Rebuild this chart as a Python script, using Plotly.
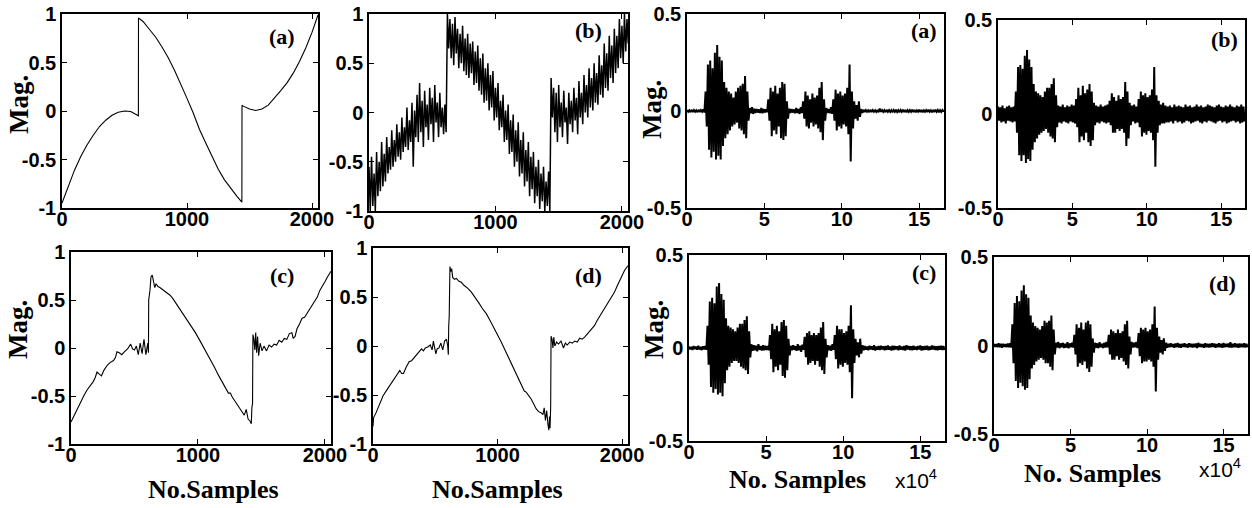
import numpy as np
import plotly.graph_objects as go

W, H = 1252, 508

# ---------------- data ----------------
# (a) clean test signal, sample index vs magnitude
clean_x = [0, 50, 100, 150, 200, 250, 300, 350, 400, 450, 500, 550, 600, 611,
           612, 650, 700, 750, 800, 850, 900, 950, 1000, 1050, 1100, 1150, 1200,
           1250, 1300, 1350, 1400, 1439,
           1440, 1450, 1500, 1550, 1600, 1650, 1700, 1750, 1800, 1850, 1900,
           1950, 2000, 2048]
clean_y = [-0.95, -0.77, -0.61, -0.47, -0.35, -0.25, -0.16, -0.095, -0.044, -0.013, 0.0, -0.005, -0.035, -0.05,
           0.96, 0.92, 0.84, 0.76, 0.66, 0.55, 0.42, 0.28, 0.13, -0.02, -0.19, -0.33, -0.46,
           -0.60, -0.71, -0.80, -0.88, -0.94,
           0.06, 0.05, 0.02, 0.005, 0.02, 0.06, 0.13, 0.21, 0.29, 0.39, 0.51,
           0.65, 0.81, 0.99]

# (b) noisy signal: upper / lower excursion in each 20-sample bin
noisy_bin = 20
noisy_hi = [-0.55, -0.45, -0.62, -0.40, -0.50, -0.30, -0.42, -0.25, -0.35, -0.18,
            -0.28, -0.12, -0.20, -0.05, -0.15, 0.05, -0.08, 0.10, 0.02, 0.18,
            0.30, 0.12, 0.22, 0.08, 0.25, 0.15, 0.28, 0.10, 0.20, 0.05,
            0.08, 1.0, 0.95, 0.90, 0.97, 0.85, 0.80, 0.88, 0.75, 0.80,
            0.70, 0.72, 0.62, 0.68, 0.55, 0.60, 0.45, 0.50, 0.38, 0.42,
            0.25, 0.30, 0.12, 0.18, 0.02, 0.08, -0.08, -0.02, -0.18, -0.10,
            -0.28, -0.20, -0.38, -0.30, -0.45, -0.40, -0.55, -0.48, -0.62, -0.55,
            -0.70, -0.60, 0.35, 0.25, 0.20, 0.28, 0.10, 0.22, 0.05, 0.20,
            0.12, 0.25, 0.15, 0.32, 0.20, 0.38, 0.28, 0.45, 0.35, 0.50,
            0.40, 0.58, 0.48, 0.70, 0.60, 0.78, 0.68, 0.85, 0.78, 0.95,
            0.88, 1.0, 0.95]
noisy_lo = [-1.0, -0.95, -1.0, -0.85, -0.80, -0.75, -0.70, -0.62, -0.58, -0.55,
            -0.50, -0.45, -0.48, -0.40, -0.35, -0.38, -0.30, -0.55, -0.25, -0.30,
            -0.20, -0.35, -0.15, -0.28, -0.12, -0.30, -0.10, -0.25, -0.15, -0.22,
            -0.20, 0.65, 0.55, 0.48, 0.60, 0.45, 0.50, 0.42, 0.38, 0.35,
            0.40, 0.28, 0.30, 0.22, 0.18, 0.10, 0.12, 0.02, 0.05, -0.08,
            -0.05, -0.18, -0.15, -0.30, -0.28, -0.42, -0.40, -0.55, -0.50, -0.65,
            -0.62, -0.75, -0.70, -0.85, -0.78, -0.92, -0.85, -0.98, -0.90, -1.0,
            -0.95, -1.0, -0.05, -0.20, -0.30, -0.15, -0.25, -0.10, -0.32, -0.12,
            -0.20, -0.08, -0.22, -0.05, -0.12, 0.0, -0.05, 0.05, 0.02, 0.10,
            0.08, 0.18, 0.15, 0.25, 0.22, 0.35, 0.30, 0.40, 0.45, 0.55,
            0.50, 0.62, 0.70]

# (c) denoised signal, bottom row left
den_c_x = [0, 25, 50, 75, 100, 125, 150, 175, 190, 205, 220, 240, 260, 285, 310, 335, 350, 362,
           380, 400, 420, 445, 470, 485, 500, 515, 530, 545, 560, 575, 590, 605, 610,
           612, 622, 630, 640, 650, 660, 670, 685, 700, 720, 740, 760, 780, 800, 830, 860,
           890, 920, 950, 980, 1010, 1040, 1070, 1100, 1130, 1160, 1190, 1220, 1240, 1255,
           1270, 1300, 1330, 1350, 1365, 1380, 1395, 1410, 1420, 1425, 1430,
           1433, 1440, 1448, 1455, 1462, 1470, 1478, 1490, 1505, 1520, 1540, 1560, 1580,
           1600, 1620, 1640, 1660, 1680, 1700, 1720, 1740, 1750, 1765, 1780, 1800, 1820,
           1840, 1860, 1880, 1900, 1920, 1940, 1960, 1980, 2000, 2020, 2048]
den_c_y = [-0.77, -0.70, -0.64, -0.57, -0.50, -0.44, -0.40, -0.35, -0.31, -0.25, -0.27, -0.29, -0.23, -0.18, -0.15, -0.13, -0.10, -0.04,
           -0.05, -0.07, -0.04, -0.01, 0.04, -0.01, -0.02, 0.02, -0.07, 0.05, -0.06, 0.09, -0.07, 0.05, -0.05,
           0.50, 0.60, 0.74, 0.76, 0.70, 0.63, 0.67, 0.64, 0.63, 0.61, 0.59, 0.57, 0.55, 0.52, 0.46, 0.40,
           0.34, 0.29, 0.23, 0.16, 0.09, 0.02, -0.06, -0.13, -0.20, -0.28, -0.35, -0.42, -0.47, -0.47,
           -0.51, -0.57, -0.63, -0.67, -0.70, -0.64, -0.74, -0.76, -0.79, -0.62, -0.58,
           0.14, 0.10, -0.02, 0.16, -0.05, 0.12, -0.08, 0.05, -0.03, 0.02, -0.03, 0.03, 0.01,
           0.04, 0.03, 0.08, 0.06, 0.10, 0.09, 0.15, 0.16, 0.10, 0.12, 0.20, 0.25, 0.31,
           0.32, 0.36, 0.40, 0.44, 0.48, 0.53, 0.60, 0.64, 0.69, 0.74, 0.80]

# (d) denoised signal, bottom row second
den_d_x = [0, 5, 25, 50, 80, 110, 135, 160, 190, 205, 215, 230, 245, 265, 290, 310, 330, 350,
           370, 390, 405, 420, 440, 460, 475, 485, 495, 505, 515, 530, 545, 560, 575, 590,
           600, 605, 608, 612, 618, 624, 632, 640, 655, 670, 690, 710, 730, 760, 790, 820,
           850, 880, 910, 940, 970, 1000, 1030, 1060, 1090, 1120, 1150, 1180, 1200, 1215,
           1230, 1250, 1270, 1290, 1310, 1330, 1350, 1365, 1375, 1385, 1395, 1405, 1412,
           1418, 1422, 1427,
           1430, 1438, 1445, 1452, 1460, 1475, 1490, 1510, 1530, 1545, 1560, 1580, 1600,
           1620, 1640, 1660, 1680, 1700, 1720, 1740, 1760, 1780, 1800, 1820, 1840, 1860,
           1880, 1900, 1920, 1940, 1960, 1980, 2000, 2020, 2048]
den_d_y = [-0.82, -0.73, -0.68, -0.60, -0.51, -0.45, -0.40, -0.35, -0.30, -0.26, -0.25, -0.28, -0.28, -0.22, -0.16, -0.15, -0.12, -0.08,
           -0.06, -0.03, -0.05, -0.02, -0.01, 0.01, -0.04, 0.05, -0.02, -0.08, -0.03, -0.02, 0.03, -0.04, 0.05, 0.07,
           0.0, -0.09, 0.20, 0.30, 0.81, 0.76, 0.79, 0.70, 0.68, 0.69, 0.66, 0.65, 0.62, 0.59, 0.55, 0.50,
           0.44, 0.38, 0.33, 0.26, 0.19, 0.11, 0.04, -0.04, -0.12, -0.21, -0.29, -0.37, -0.43, -0.46,
           -0.47, -0.50, -0.54, -0.59, -0.64, -0.67, -0.68, -0.70, -0.63, -0.76, -0.66, -0.80, -0.86,
           -0.72, -0.84, -0.62,
           0.10, 0.07, -0.02, 0.09, 0.0, 0.04, 0.02, 0.05, -0.02, 0.03, 0.01, 0.04, 0.03,
           0.05, 0.04, 0.08, 0.07, 0.09, 0.12, 0.14, 0.18, 0.21, 0.26, 0.30, 0.34, 0.39,
           0.43, 0.47, 0.51, 0.55, 0.61, 0.66, 0.71, 0.77, 0.82]

# speech signals: upper / lower excursion per bin of 0.15 x10^4 samples
speech_bin = 0.15
sp_a_hi = [0.005, 0.004, 0.006, 0.005, 0.004, 0.006, 0.005, 0.008,
           0.10, 0.24, 0.26, 0.22, 0.30, 0.34, 0.28, 0.26,
           0.15, 0.12, 0.10, 0.09, 0.07, 0.10, 0.12,
           0.13, 0.14, 0.18, 0.10,
           0.015, 0.02, 0.012, 0.01, 0.008, 0.015, 0.01, 0.008,
           0.06, 0.12, 0.10, 0.13, 0.09, 0.12, 0.15, 0.14, 0.05,
           0.012, 0.01, 0.008, 0.015, 0.01, 0.02,
           0.05, 0.10, 0.08, 0.06, 0.09, 0.07, 0.08, 0.12, 0.15, 0.06,
           0.015, 0.01, 0.02,
           0.06, 0.11, 0.09, 0.10, 0.08, 0.09, 0.12, 0.24, 0.10,
           0.05, 0.03, 0.05, 0.01,
           0.006, 0.005, 0.004, 0.006, 0.005, 0.004, 0.005, 0.012, 0.005, 0.004,
           0.006, 0.005, 0.004, 0.005, 0.006, 0.004, 0.005, 0.006, 0.005, 0.004,
           0.005, 0.006, 0.005, 0.004, 0.006, 0.005, 0.004, 0.005, 0.006, 0.004,
           0.005, 0.006, 0.005, 0.004, 0.005]
sp_a_lo = [-0.004, -0.006, -0.005, -0.004, -0.006, -0.005, -0.004, -0.007,
           -0.08, -0.20, -0.24, -0.21, -0.25, -0.23, -0.25, -0.18,
           -0.14, -0.12, -0.10, -0.08, -0.07, -0.06, -0.09,
           -0.10, -0.12, -0.14, -0.05,
           -0.012, -0.015, -0.01, -0.008, -0.01, -0.012, -0.008, -0.006,
           -0.05, -0.13, -0.10, -0.12, -0.08, -0.14, -0.15, -0.13, -0.04,
           -0.01, -0.008, -0.012, -0.01, -0.015, -0.01,
           -0.04, -0.08, -0.09, -0.06, -0.08, -0.07, -0.09, -0.11, -0.15, -0.05,
           -0.01, -0.012, -0.015,
           -0.05, -0.10, -0.08, -0.09, -0.07, -0.08, -0.12, -0.26, -0.09,
           -0.04, -0.05, -0.03, -0.01,
           -0.005, -0.004, -0.006, -0.005, -0.004, -0.005, -0.006, -0.004, -0.005, -0.006,
           -0.004, -0.005, -0.006, -0.004, -0.005, -0.006, -0.004, -0.005, -0.006, -0.005,
           -0.004, -0.005, -0.006, -0.004, -0.005, -0.006, -0.004, -0.005, -0.004, -0.006,
           -0.005, -0.004, -0.006, -0.005, -0.004]
sp_b_hi = [0.04, 0.035, 0.045, 0.03, 0.04, 0.045, 0.035, 0.04,
           0.12, 0.25, 0.26, 0.24, 0.31, 0.34, 0.29, 0.25,
           0.16, 0.12, 0.11, 0.10, 0.09, 0.12, 0.14,
           0.14, 0.16, 0.19, 0.10,
           0.045, 0.04, 0.05, 0.035, 0.045, 0.04, 0.05, 0.045,
           0.08, 0.14, 0.10, 0.15, 0.11, 0.13, 0.16, 0.12, 0.06,
           0.045, 0.04, 0.05, 0.04, 0.045, 0.05,
           0.07, 0.11, 0.09, 0.07, 0.10, 0.08, 0.09, 0.17, 0.12, 0.06,
           0.045, 0.05, 0.04,
           0.08, 0.12, 0.10, 0.11, 0.09, 0.10, 0.13, 0.25, 0.10,
           0.07, 0.05, 0.06, 0.045,
           0.04, 0.045, 0.035, 0.05, 0.04, 0.045, 0.04, 0.035, 0.05, 0.04,
           0.045, 0.035, 0.04, 0.05, 0.04, 0.045, 0.035, 0.04, 0.05, 0.045,
           0.04, 0.035, 0.045, 0.05, 0.04, 0.035, 0.045, 0.04, 0.05, 0.04,
           0.035, 0.045, 0.04, 0.05, 0.04]
sp_b_lo = [-0.035, -0.045, -0.04, -0.05, -0.035, -0.04, -0.045, -0.04,
           -0.10, -0.22, -0.25, -0.22, -0.26, -0.24, -0.25, -0.19,
           -0.15, -0.13, -0.11, -0.10, -0.09, -0.08, -0.10,
           -0.12, -0.13, -0.15, -0.07,
           -0.045, -0.05, -0.04, -0.045, -0.05, -0.04, -0.045, -0.05,
           -0.07, -0.15, -0.12, -0.14, -0.10, -0.15, -0.17, -0.14, -0.06,
           -0.045, -0.05, -0.04, -0.045, -0.05, -0.045,
           -0.06, -0.10, -0.10, -0.08, -0.09, -0.08, -0.10, -0.17, -0.13, -0.06,
           -0.04, -0.05, -0.045,
           -0.07, -0.12, -0.10, -0.11, -0.09, -0.10, -0.14, -0.28, -0.10,
           -0.06, -0.05, -0.05, -0.045,
           -0.045, -0.04, -0.05, -0.035, -0.045, -0.04, -0.05, -0.045, -0.035, -0.04,
           -0.05, -0.045, -0.04, -0.035, -0.045, -0.05, -0.04, -0.045, -0.035, -0.04,
           -0.045, -0.05, -0.04, -0.035, -0.045, -0.04, -0.05, -0.045, -0.04, -0.035,
           -0.045, -0.04, -0.05, -0.045, -0.04]
sp_c_hi = [0.008, 0.006, 0.01, 0.007, 0.012, 0.006, 0.009, 0.01,
           0.12, 0.25, 0.27, 0.24, 0.33, 0.35, 0.29, 0.26,
           0.16, 0.12, 0.11, 0.10, 0.09, 0.11, 0.13,
           0.13, 0.15, 0.17, 0.09,
           0.02, 0.015, 0.012, 0.02, 0.01, 0.015, 0.012, 0.01,
           0.07, 0.13, 0.10, 0.12, 0.09, 0.14, 0.15, 0.12, 0.05,
           0.012, 0.015, 0.01, 0.02, 0.012, 0.018,
           0.06, 0.08, 0.09, 0.07, 0.08, 0.07, 0.08, 0.11, 0.14, 0.05,
           0.015, 0.012, 0.02,
           0.07, 0.12, 0.10, 0.10, 0.08, 0.09, 0.12, 0.23, 0.10,
           0.05, 0.03, 0.05, 0.015,
           0.01, 0.008, 0.012, 0.009, 0.015, 0.008, 0.01, 0.012, 0.009, 0.011,
           0.014, 0.008, 0.012, 0.01, 0.009, 0.013, 0.008, 0.011, 0.015, 0.01,
           0.009, 0.012, 0.008, 0.011, 0.014, 0.009, 0.01, 0.012, 0.008, 0.013,
           0.01, 0.009, 0.011, 0.012, 0.01]
sp_c_lo = [-0.007, -0.01, -0.006, -0.009, -0.008, -0.011, -0.007, -0.009,
           -0.09, -0.21, -0.24, -0.22, -0.25, -0.24, -0.26, -0.19,
           -0.12, -0.10, -0.08, -0.07, -0.07, -0.08, -0.10,
           -0.11, -0.12, -0.14, -0.05,
           -0.015, -0.012, -0.018, -0.01, -0.014, -0.012, -0.01, -0.012,
           -0.06, -0.13, -0.10, -0.12, -0.09, -0.15, -0.16, -0.12, -0.04,
           -0.012, -0.01, -0.015, -0.012, -0.02, -0.01,
           -0.05, -0.09, -0.08, -0.07, -0.09, -0.07, -0.10, -0.12, -0.14, -0.05,
           -0.012, -0.015, -0.01,
           -0.06, -0.11, -0.09, -0.10, -0.08, -0.09, -0.13, -0.27, -0.08,
           -0.04, -0.05, -0.03, -0.012,
           -0.009, -0.012, -0.008, -0.01, -0.013, -0.009, -0.011, -0.008, -0.012, -0.01,
           -0.009, -0.013, -0.01, -0.008, -0.012, -0.009, -0.011, -0.014, -0.008, -0.01,
           -0.012, -0.009, -0.011, -0.008, -0.013, -0.01, -0.009, -0.012, -0.01, -0.008,
           -0.011, -0.012, -0.009, -0.01, -0.011]
sp_d_hi = [0.01, 0.008, 0.012, 0.009, 0.01, 0.008, 0.011, 0.012,
           0.12, 0.24, 0.28, 0.25, 0.31, 0.34, 0.29, 0.27,
           0.17, 0.13, 0.11, 0.10, 0.09, 0.11, 0.14,
           0.13, 0.14, 0.17, 0.09,
           0.015, 0.02, 0.012, 0.015, 0.01, 0.018, 0.012, 0.015,
           0.06, 0.12, 0.10, 0.13, 0.09, 0.13, 0.14, 0.12, 0.04,
           0.015, 0.012, 0.018, 0.01, 0.015, 0.02,
           0.06, 0.09, 0.08, 0.07, 0.09, 0.07, 0.08, 0.12, 0.14, 0.05,
           0.02, 0.015, 0.02,
           0.07, 0.10, 0.09, 0.10, 0.08, 0.09, 0.12, 0.22, 0.10,
           0.05, 0.03, 0.04, 0.015,
           0.01, 0.012, 0.008, 0.011, 0.014, 0.009, 0.01, 0.012, 0.008, 0.013,
           0.01, 0.009, 0.011, 0.015, 0.01, 0.008, 0.012, 0.01, 0.009, 0.013,
           0.011, 0.008, 0.012, 0.01, 0.014, 0.009, 0.011, 0.018, 0.01, 0.012,
           0.009, 0.011, 0.01, 0.012, 0.01]
sp_d_lo = [-0.008, -0.01, -0.009, -0.012, -0.008, -0.01, -0.009, -0.011,
           -0.10, -0.20, -0.24, -0.21, -0.23, -0.25, -0.24, -0.19,
           -0.13, -0.11, -0.09, -0.08, -0.07, -0.08, -0.10,
           -0.10, -0.12, -0.14, -0.05,
           -0.012, -0.015, -0.01, -0.014, -0.012, -0.016, -0.01, -0.012,
           -0.05, -0.12, -0.10, -0.11, -0.09, -0.13, -0.15, -0.12, -0.04,
           -0.012, -0.015, -0.01, -0.014, -0.012, -0.01,
           -0.05, -0.08, -0.08, -0.06, -0.08, -0.07, -0.09, -0.11, -0.13, -0.05,
           -0.012, -0.01, -0.015,
           -0.06, -0.10, -0.09, -0.09, -0.08, -0.09, -0.12, -0.26, -0.08,
           -0.04, -0.05, -0.03, -0.012,
           -0.01, -0.008, -0.012, -0.009, -0.011, -0.013, -0.008, -0.01, -0.012, -0.009,
           -0.011, -0.01, -0.014, -0.008, -0.01, -0.012, -0.009, -0.011, -0.01, -0.008,
           -0.012, -0.01, -0.009, -0.013, -0.01, -0.008, -0.011, -0.012, -0.009, -0.01,
           -0.012, -0.009, -0.01, -0.011, -0.01]

# tick labels
sig_ticks = [-1, -0.5, 0, 0.5, 1]
sig_tick_text = ["-1", "-0.5", "0", "0.5", "1"]
sig_xticks = [0, 1000, 2000]
sp_ticks = [-0.5, 0, 0.5]
sp_tick_text = ["-0.5", "0", "0.5"]
sp_xticks = [0, 5, 10, 15]


def zigzag(hi, lo, step):
    # interleave upper and lower excursions into one polyline
    n = min(len(hi), len(lo))
    xs, ys = [], []
    for i in range(n):
        xs += [i * step, i * step + step / 2]
        ys += [hi[i], lo[i]]
    return xs, ys


# panel boxes in pixels: left, top, right, bottom
boxes = {
    1: (62, 14, 318, 208),
    2: (369, 14, 628, 211),
    3: (687, 14, 944, 208),
    4: (998, 20, 1245, 208),
    5: (71, 252, 331, 444),
    6: (373, 248, 628, 444),
    7: (689, 255, 945, 441),
    8: (994, 257, 1248, 434),
}

fig = go.Figure()

nx, ny = zigzag(noisy_hi, noisy_lo, noisy_bin)
series = {
    1: (clean_x, clean_y, 1.1),
    2: (nx, ny, 1.5),
    3: zigzag(sp_a_hi, sp_a_lo, speech_bin) + (2,),
    4: zigzag(sp_b_hi, sp_b_lo, speech_bin) + (2,),
    5: (den_c_x, den_c_y, 1.1),
    6: (den_d_x, den_d_y, 1.1),
    7: zigzag(sp_c_hi, sp_c_lo, speech_bin) + (2,),
    8: zigzag(sp_d_hi, sp_d_lo, speech_bin) + (2,),
}
for k, (xs, ys, lw) in series.items():
    fig.add_trace(go.Scatter(x=xs, y=ys, mode="lines",
                             line=dict(color="black", width=lw),
                             xaxis="x%d" % k, yaxis="y%d" % k,
                             hoverinfo="skip"))

tickfont = dict(family="Liberation Sans, Arial", size=20, color="black", weight="bold")
layout = {}
for k, (l, t, r, b) in boxes.items():
    speech = k in (3, 4, 7, 8)
    ax = dict(domain=[l / W, r / W], anchor="y%d" % k, showgrid=False, zeroline=False,
              showline=True, linecolor="black", linewidth=1.5, mirror="ticks",
              ticks="inside", ticklen=5, tickcolor="black", tickwidth=1,
              tickfont=tickfont, automargin=False)
    ay = dict(ax, domain=[1 - b / H, 1 - t / H], anchor="x%d" % k)
    ax["ticklabelstandoff"] = -8
    if speech:
        ax.update(range=[0, 16.6], tickvals=sp_xticks, ticktext=[str(v) for v in sp_xticks])
        ay.update(range=[-0.5, 0.5], tickvals=sp_ticks, ticktext=sp_tick_text)
    else:
        ax.update(range=[0, 2048], tickvals=sig_xticks, ticktext=[str(v) for v in sig_xticks])
        ay.update(range=[-1, 1], tickvals=sig_ticks, ticktext=sig_tick_text)
    layout["xaxis%d" % k] = ax
    layout["yaxis%d" % k] = ay

serif = dict(family="Liberation Serif, Times New Roman", color="black", weight="bold")
ann = []


def text_at(px, py, s, size, rot=0, fam=serif):
    ann.append(dict(x=px / W, y=1 - py / H, xref="paper", yref="paper", text=s,
                    showarrow=False, textangle=rot, xanchor="center", yanchor="middle",
                    font=dict(fam, size=size)))


# panel labels
for px, py, s in [(282, 37, "(a)"), (588, 30, "(b)"), (924, 30, "(a)"), (1224, 40, "(b)"),
                  (282, 275, "(c)"), (588, 275, "(d)"), (924, 272, "(c)"), (1222, 283, "(d)")]:
    text_at(px, py, s, 22)

# axis titles
for px, py in [(19, 105), (652, 110), (18, 330), (654, 330)]:
    text_at(px, py, "Mag.", 27, rot=-90)
text_at(213, 489, "No.Samples", 26)
text_at(497, 489, "No.Samples", 26)
text_at(797, 479, "No. Samples", 26)
text_at(1092, 473, "No. Samples", 26)
sans = dict(family="Liberation Sans, Arial", color="black")
text_at(916, 479, "x10<sup>4</sup>", 21, fam=sans)
text_at(1220, 468, "x10<sup>4</sup>", 21, fam=sans)

fig.update_layout(**layout)
fig.update_layout(width=W, height=H, margin=dict(l=0, r=0, t=0, b=0, pad=0),
                  paper_bgcolor="white", plot_bgcolor="white", showlegend=False,
                  annotations=ann)
fig.write_html("out.html", config={"displayModeBar": False},
               post_script="document.body.style.margin='0px';document.body.style.overflow='hidden';")
